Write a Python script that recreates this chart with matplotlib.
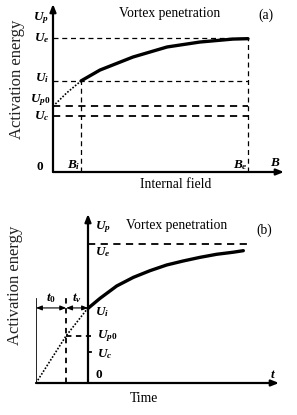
import matplotlib
matplotlib.use("Agg")
import matplotlib.pyplot as plt

plt.rcParams['font.family'] = ['Liberation Serif', 'DejaVu Serif']
plt.rcParams['mathtext.fontset'] = 'custom'
plt.rcParams['mathtext.it'] = 'Liberation Serif:italic:bold'
plt.rcParams['mathtext.rm'] = 'Liberation Serif:bold'
plt.rcParams['mathtext.bf'] = 'Liberation Serif:bold'

# ---------------- Panel (a): activation energy vs internal field ----------------
a_levels = {"Ue": 1.0, "Ui": 0.68, "Up0": 0.49, "Uc": 0.42}
a_Bi = 0.144
a_Be = 1.0
a_solid_B = [0.144, 0.241, 0.41, 0.585, 0.754, 0.923, 1.0]
a_solid_U = [0.68, 0.761, 0.858, 0.933, 0.970, 0.992, 0.995]
a_dot_B = [0.0, 0.07, 0.144]
a_dot_U = [0.49, 0.59, 0.68]

# ---------------- Panel (b): activation energy vs time ----------------
b_levels = {"Ue": 1.0, "Ui": 0.54, "Up0": 0.34, "Uc": 0.22}
b_t0 = -1.0
b_tv = -0.42
b_solid_t = [0.0, 0.231, 0.552, 0.872, 1.192, 1.513, 1.833, 2.154, 2.474, 2.795, 2.987]
b_solid_U = [0.537, 0.609, 0.698, 0.760, 0.808, 0.849, 0.878, 0.904, 0.926, 0.941, 0.952]
b_dot_t = [-1.0, -0.42, 0.0]
b_dot_U = [0.0, 0.34, 0.54]
b_Ue_end = 3.06

W, H = 297, 415
fig = plt.figure(figsize=(W / 100, H / 100), dpi=100)


def px_axes(x0, y0, x1, y1):
    return fig.add_axes([x0 / W, 1 - y1 / H, (x1 - x0) / W, (y1 - y0) / H])


lab_fs = 9.5
txt_fs = 9.8
ae_fs = 12

# ---------- (a) ----------
axa = px_axes(53, 4, 284, 172)
axa.set_xlim(0, 231 / 195)
axa.set_ylim(0, 168 / 134)
axa.axis('off')
ak = dict(arrowstyle='-|>,head_length=0.45,head_width=0.18', color='black', lw=1.6,
          shrinkA=0, shrinkB=0)
axa.annotate('', xy=(0, 168 / 134), xytext=(0, 0), arrowprops=ak, annotation_clip=False)
axa.annotate('', xy=(231 / 195, 0), xytext=(0, 0), arrowprops=ak, annotation_clip=False)

axa.plot([0, a_Be], [a_levels["Ue"]] * 2, ls=(0, (4, 3)), color='black', lw=0.9)
axa.plot([0, a_Be], [a_levels["Ui"]] * 2, ls=(0, (4, 3)), color='black', lw=0.9)
axa.plot([0, a_Be], [a_levels["Up0"]] * 2, ls=(0, (4, 3)), color='black', lw=1.3)
axa.plot([0, a_Be], [a_levels["Uc"]] * 2, ls=(0, (4, 3)), color='black', lw=1.3)
axa.plot([a_Bi, a_Bi], [0, a_levels["Ui"]], ls=(0, (4, 3)), color='black', lw=0.9)
axa.plot([a_Be, a_Be], [0, a_levels["Ue"]], ls=(0, (4, 3)), color='black', lw=0.9)
axa.plot(a_solid_B, a_solid_U, color='black', lw=2.4, solid_capstyle='round')
axa.plot(a_dot_B, a_dot_U, color='black', lw=1.2, ls=(0, (1, 1)))

lx = -0.02
axa.text(lx, 1.15, r'$U_p$', ha='right', va='center', fontsize=lab_fs)
axa.text(lx, a_levels["Ue"], r'$U_e$', ha='right', va='center', fontsize=lab_fs)
axa.text(lx, 0.70, r'$U_i$', ha='right', va='center', fontsize=lab_fs)
axa.text(-0.012, 0.535, r'$U_{p0}$', ha='right', va='center', fontsize=lab_fs)
axa.text(lx, 0.415, r'$U_c$', ha='right', va='center', fontsize=lab_fs)
axa.text(-0.045, 0.04, r'$\mathit{0}$', ha='right', va='center', fontsize=lab_fs)
axa.text(a_Bi - 0.04, 0.05, r'$B_i$', ha='center', va='center', fontsize=lab_fs)
axa.text(a_Be - 0.04, 0.05, r'$B_e$', ha='center', va='center', fontsize=lab_fs)
axa.text(1.14, 0.07, r'$B$', ha='center', va='center', fontsize=lab_fs)
axa.text(0.6, 1.18, 'Vortex penetration', ha='center', va='center', fontsize=txt_fs)
axa.text(1.09, 1.17, '(a)', ha='center', va='center', fontsize=txt_fs)
axa.text(0.63, -0.09, 'Internal field', ha='center', va='center', fontsize=txt_fs)
axa.text(-0.185, 0.69, 'Activation energy', ha='center', va='center', rotation=90,
         fontsize=ae_fs, color='#222222')

# ---------- (b) ----------
axb = px_axes(36, 214, 279, 383)
axb.set_xlim(-1, 191 / 52)
axb.set_ylim(0, 169 / 139)
axb.axis('off')
axb.annotate('', xy=(0, 169 / 139), xytext=(0, 0), arrowprops=ak, annotation_clip=False)
axb.annotate('', xy=(191 / 52, 0), xytext=(-1, 0), arrowprops=ak, annotation_clip=False)
axb.plot([-1, -1], [0, 0.61], color='black', lw=0.6)

axb.plot([0, b_Ue_end], [b_levels["Ue"]] * 2, ls=(0, (4, 3)), color='black', lw=1.3)
axb.plot([b_tv, 0.06], [b_levels["Up0"]] * 2, ls=(0, (3, 2.5)), color='black', lw=1.3)
axb.plot([0, 0.06], [b_levels["Uc"]] * 2, color='black', lw=1.3)
axb.plot([b_tv, b_tv], [0, 0.61], ls=(0, (3, 2.5)), color='black', lw=1.3)
axb.plot(b_solid_t, b_solid_U, color='black', lw=2.4, solid_capstyle='round')
axb.plot(b_dot_t, b_dot_U, color='black', lw=1.2, ls=(0, (1, 1)))

dk = dict(arrowstyle='<|-|>,head_length=0.35,head_width=0.14', color='black', lw=0.8,
          shrinkA=0, shrinkB=0)
axb.annotate('', xy=(b_t0, b_levels["Ui"]), xytext=(b_tv, b_levels["Ui"]), arrowprops=dk)
axb.annotate('', xy=(b_tv, b_levels["Ui"]), xytext=(0, b_levels["Ui"]), arrowprops=dk)

rx = 0.13
axb.text(rx, 1.12, r'$U_p$', ha='left', va='center', fontsize=lab_fs)
axb.text(rx, b_levels["Ue"] - 0.06, r'$U_e$', ha='left', va='center', fontsize=lab_fs)
axb.text(rx, b_levels["Ui"] - 0.03, r'$U_i$', ha='left', va='center', fontsize=lab_fs)
axb.text(rx + 0.05, b_levels["Up0"], r'$U_{p0}$', ha='left', va='center', fontsize=lab_fs)
axb.text(rx + 0.05, b_levels["Uc"] - 0.01, r'$U_c$', ha='left', va='center', fontsize=lab_fs)
axb.text(0.13, 0.06, r'$\mathit{0}$', ha='left', va='center', fontsize=lab_fs)
axb.text(3.55, 0.06, r'$t$', ha='center', va='center', fontsize=lab_fs)
axb.text((b_t0 + b_tv) / 2, 0.61, r'$t_0$', ha='center', va='center', fontsize=lab_fs)
axb.text(b_tv / 2, 0.61, r'$t_v$', ha='center', va='center', fontsize=lab_fs)
axb.text(1.71, 1.13, 'Vortex penetration', ha='center', va='center', fontsize=txt_fs)
axb.text(3.39, 1.1, '(b)', ha='center', va='center', fontsize=txt_fs)
axb.text(1.08, -0.11, 'Time', ha='center', va='center', fontsize=txt_fs)
axb.text(-1.40, 0.70, 'Activation energy', ha='center', va='center', rotation=90,
         fontsize=ae_fs, color='#222222')

fig.savefig('out.png', dpi=100)
